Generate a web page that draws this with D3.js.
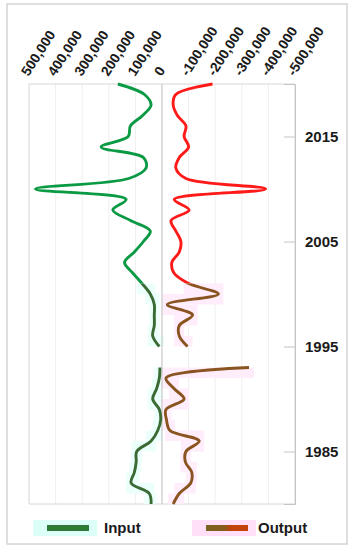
<!DOCTYPE html>
<html>
<head>
<meta charset="utf-8">
<script src="https://cdn.jsdelivr.net/npm/d3@7"></script>
<style>
  body { margin: 0; background: #fff; }
  text { font-family: "Liberation Sans", Arial, sans-serif; font-weight: bold; fill: #1a1a1a; }
</style>
</head>
<body>
<div id="chart"></div>
<script>
// years 1980..2020, 1994 missing
var years = d3.range(1980, 2021);
var inputVals = [41000, 48000, 116000, 104000, 97000, 95000, 41000, 16000, 5000, 10000,
  35000, 20000, 10000, 8000, null, 10000, 35000, 29000, 29000, 29000,
  44000, 75000, 110000, 141000, 104000, 70000, 44000, 118000, 185000, 135000,
  476000, 125000, 60000, 70000, 229000, 127000, 119000, 73000, 41000, 66000, 166000];
var outputVals = [-42000, -65000, -108000, -112000, -88000, -90000, -140000, -30000, -17000, -15000,
  -83000, -45000, -15000, -327000, null, -96000, -65000, -65000, -115000, -20000,
  -212000, -100000, -45000, -37000, -65000, -71000, -52000, -34000, -102000, -46000,
  -390000, -90000, -52000, -65000, -100000, -83000, -90000, -58000, -42000, -52000, -190000];
var xTicks = [500000, 400000, 300000, 200000, 100000, 0, -100000, -200000, -300000, -400000, -500000];
var yTicks = [1985, 1995, 2005, 2015];
var splitYear = 2001;
var legendNames = ["Input", "Output"];

var width = 354, height = 550,
    margin = {left: 29, right: 59, top: 84, bottom: 46};

var svg = d3.select("#chart").append("svg")
    .attr("width", width).attr("height", height);

// outer frame
svg.append("rect").attr("x", 7).attr("y", 4).attr("width", 340).attr("height", 540)
    .attr("fill", "none").attr("stroke", "#d4d4d4").attr("stroke-width", 1.5);

var x = d3.scaleLinear().domain([500000, -500000]).range([margin.left, width - margin.right]);
var y = d3.scaleLinear().domain([2020, 1980]).range([margin.top, height - margin.bottom]);

var defs = svg.append("defs");
defs.append("clipPath").attr("id", "upper").append("rect")
    .attr("x", 0).attr("y", 0).attr("width", width).attr("height", y(splitYear));
defs.append("clipPath").attr("id", "lower").append("rect")
    .attr("x", 0).attr("y", y(splitYear)).attr("width", width).attr("height", height);

var grad = defs.append("linearGradient").attr("id", "outGrad");
grad.append("stop").attr("offset", "0%").attr("stop-color", "#7a6420");
grad.append("stop").attr("offset", "45%").attr("stop-color", "#8a5a1c");
grad.append("stop").attr("offset", "60%").attr("stop-color", "#c4420c");
grad.append("stop").attr("offset", "100%").attr("stop-color", "#c4420c");

// grid
svg.append("g").selectAll("line").data(xTicks.filter(function (d) { return d !== 0; }))
  .enter().append("line")
    .attr("x1", function (d) { return x(d); }).attr("x2", function (d) { return x(d); })
    .attr("y1", y(2020)).attr("y2", y(1980))
    .attr("stroke", function (d) { return Math.abs(d) === 500000 ? "#d6d6d6" : "#efefef"; })
    .attr("stroke-width", 1);
svg.append("line").attr("x1", x(500000)).attr("x2", x(-500000))
    .attr("y1", y(2020)).attr("y2", y(2020)).attr("stroke", "#d6d6d6");
svg.append("line").attr("x1", x(500000)).attr("x2", x(-500000))
    .attr("y1", y(1980)).attr("y2", y(1980)).attr("stroke", "#d6d6d6");

// highlight blocks behind the older part of each series
function blocks(vals, color) {
  var pairs = [];
  for (var i = 0; i < years.length - 1; i++) {
    if (years[i] >= splitYear) break;
    if (vals[i] === null || vals[i + 1] === null) continue;
    pairs.push([vals[i], vals[i + 1], years[i], years[i + 1]]);
  }
  svg.append("g").selectAll("rect").data(pairs).enter().append("rect")
    .attr("x", function (d) { return Math.min(x(d[0]), x(d[1])) - 5; })
    .attr("width", function (d) { return Math.abs(x(d[0]) - x(d[1])) + 10; })
    .attr("y", function (d) { return y(d[3]); })
    .attr("height", function (d) { return y(d[2]) - y(d[3]); })
    .attr("fill", color);
}
blocks(inputVals, "#ebfffb");
blocks(outputVals, "#ffedfb");

// zero line
svg.append("line").attr("x1", x(0)).attr("x2", x(0))
    .attr("y1", y(2020)).attr("y2", y(1980)).attr("stroke", "#c8c8c8").attr("stroke-width", 1.2);

var line = d3.line()
    .defined(function (d) { return d[1] !== null; })
    .x(function (d) { return x(d[1]); })
    .y(function (d) { return y(d[0]); })
    .curve(d3.curveCatmullRom.alpha(0.5));

function drawSeries(vals, colUpper, colLower) {
  var pts = years.map(function (yr, i) { return [yr, vals[i]]; });
  svg.append("path").datum(pts).attr("d", line).attr("clip-path", "url(#upper)")
    .attr("fill", "none").attr("stroke", colUpper).attr("stroke-width", 2.9);
  svg.append("path").datum(pts).attr("d", line).attr("clip-path", "url(#lower)")
    .attr("fill", "none").attr("stroke", colLower).attr("stroke-width", 2.9);
}
drawSeries(inputVals, "#0b9a44", "#3b6b34");
drawSeries(outputVals, "#ff1a1a", "#8a5420");

// top axis
var fmt = d3.formatLocale({decimal: ".", thousands: ",", grouping: [3], currency: ["", ""], minus: "-"}).format(",");
var xAxis = svg.append("g").attr("transform", "translate(0," + margin.top + ")")
    .call(d3.axisTop(x).tickValues(xTicks).tickSize(0).tickFormat(fmt));
xAxis.select(".domain").remove();
xAxis.selectAll("text")
    .style("font-size", "14px")
    .attr("text-anchor", "start")
    .attr("dy", 0).attr("y", 0)
    .attr("transform", "translate(-1,-7) rotate(-57)");

// right axis
var yAxis = svg.append("g").attr("transform", "translate(" + (width - margin.right) + ",0)")
    .call(d3.axisRight(y).tickValues(yTicks).tickSize(-11).tickPadding(10).tickFormat(d3.format("d")));
yAxis.select(".domain").attr("stroke", "#c4c4c4");
yAxis.selectAll(".tick line").attr("stroke", "#c4c4c4");
yAxis.selectAll("text").style("font-size", "15px");

// legend
var lg = svg.append("g");
var lx = [33, 192];
lg.selectAll("rect.bg").data(legendNames).enter().append("rect")
    .attr("x", function (d, i) { return lx[i]; }).attr("y", 520)
    .attr("width", 64).attr("height", 16)
    .attr("fill", function (d, i) { return i === 0 ? "#dcfff8" : "#ffe0f8"; });
lg.selectAll("line").data(legendNames).enter().append("line")
    .attr("x1", function (d, i) { return lx[i] + 14; })
    .attr("x2", function (d, i) { return lx[i] + 56; })
    .attr("y1", 528).attr("y2", 528.01)
    .attr("stroke", function (d, i) { return i === 0 ? "#2f7a36" : "url(#outGrad)"; })
    .attr("stroke-width", 6);
lg.selectAll("text").data(legendNames).enter().append("text")
    .attr("x", function (d, i) { return lx[i] + 71 + i * -5; })
    .attr("y", 533)
    .style("font-size", "15px")
    .text(function (d) { return d; });
</script>
</body>
</html>
